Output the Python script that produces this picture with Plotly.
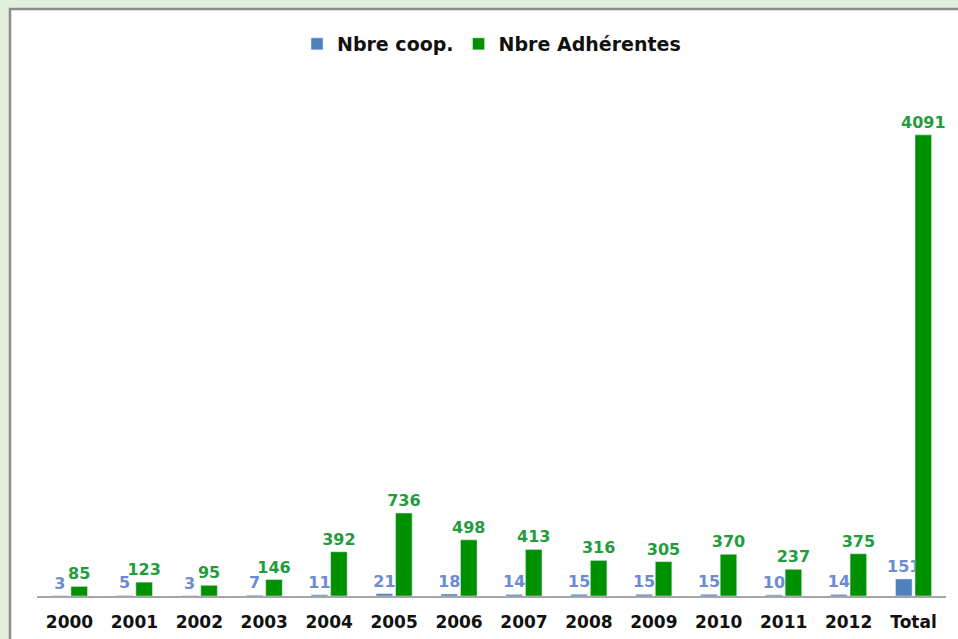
import plotly.graph_objects as go

categories = ['2000', '2001', '2002', '2003', '2004', '2005', '2006',
              '2007', '2008', '2009', '2010', '2011', '2012', 'Total']
nbre_coop = [3, 5, 3, 7, 11, 21, 18, 14, 15, 15, 15, 10, 14, 151]
nbre_adherentes = [85, 123, 95, 146, 392, 736, 498, 413, 316, 305, 370, 237, 375, 4091]

W, H = 958, 639
ML, MR, MT, MB = 37, 12, 100, 43
pw, ph = W - ML - MR, H - MT - MB

trace_coop = go.Bar(
    x=categories, y=nbre_coop, name='Nbre coop.',
    marker=dict(color='#4f81bd'),
    text=nbre_coop, textposition='outside', constraintext='none',
    textfont=dict(family='DejaVu Sans', size=16, color='#6b8bd2', weight='bold'),
    cliponaxis=False,
)

trace_adh = go.Bar(
    x=categories, y=nbre_adherentes, name='Nbre Adhérentes',
    marker=dict(color='#009100'),
    text=nbre_adherentes, textposition='outside', constraintext='none',
    textfont=dict(family='DejaVu Sans', size=16, color='#239d3c', weight='bold'),
    cliponaxis=False,
)

layout = go.Layout(
    width=W, height=H,
    margin=dict(l=ML, r=MR, t=MT, b=MB),
    paper_bgcolor='#e2efda',
    plot_bgcolor='white',
    barmode='group', bargap=0.4, bargroupgap=0.15,
    showlegend=True,
    legend=dict(orientation='h', x=0.5, xanchor='center', y=(H - MB - 44) / ph,
                yanchor='middle',
                font=dict(family='DejaVu Sans', size=19, color='#111', weight='bold'),
                bgcolor='rgba(0,0,0,0)', itemwidth=30, traceorder='normal'),
    xaxis=dict(showline=True, linecolor='#a6a6a6', linewidth=2, ticks='',
               ticklabelstandoff=10, automargin=False,
               tickfont=dict(family='DejaVu Sans', size=17, color='#111', weight='bold'),
               showgrid=False, range=[-0.5, 13.5]),
    yaxis=dict(visible=False, range=[0, 4400], showgrid=False, automargin=False),
    shapes=[dict(
        type='rect', xref='paper', yref='paper', layer='below',
        x0=(10 - ML) / pw, x1=(W + 20 - ML) / pw,
        y0=(H - (H + 20) - MB) / ph, y1=(H - 9 - MB) / ph,
        fillcolor='white', line=dict(color='#8c8c8c', width=2.5),
    )],
)

fig = go.Figure(data=[trace_coop, trace_adh], layout=layout)
fig.write_html("out.html", config={'displayModeBar': False},
               post_script="document.body.style.margin='0';")
